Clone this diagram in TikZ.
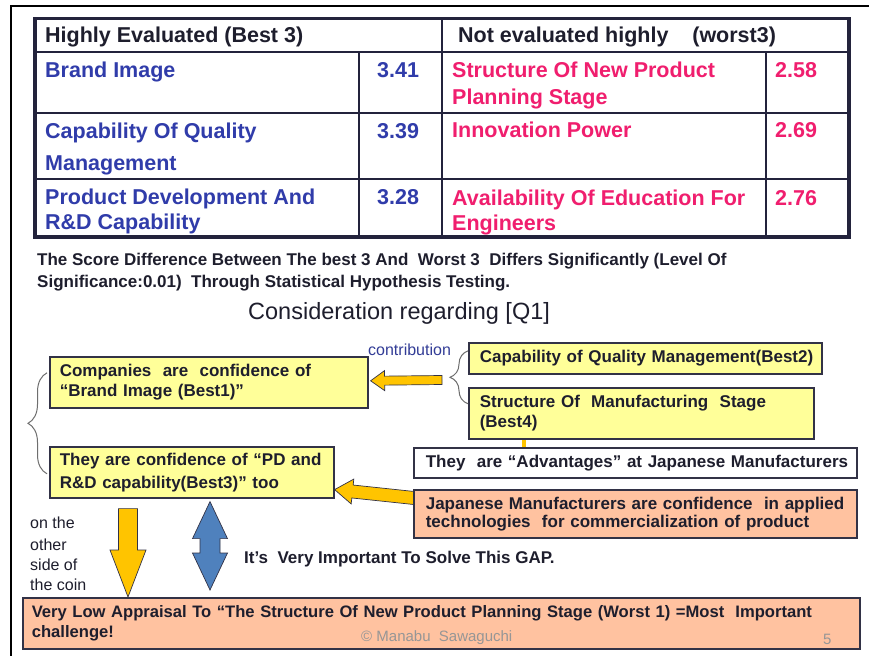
\documentclass[tikz,border=0pt]{standalone}
\usepackage{fontspec}
\setmainfont{Liberation Sans}
\usetikzlibrary{calc,decorations.pathreplacing}
\definecolor{boxline}{RGB}{50,50,70}
\definecolor{boxyellow}{RGB}{255,255,153}
\definecolor{salmon}{RGB}{255,194,160}
\definecolor{arrowyellow}{RGB}{255,196,0}
\definecolor{arrowblue}{RGB}{79,129,189}
\definecolor{tabline}{RGB}{35,35,60}
\definecolor{tabblue}{RGB}{48,60,170}
\definecolor{tabpink}{RGB}{240,30,110}
\definecolor{darktext}{RGB}{30,30,45}
\definecolor{bracegrey}{RGB}{110,110,110}
\definecolor{contribblue}{RGB}{50,60,150}
\definecolor{footgrey}{RGB}{150,150,150}
\newcommand\myTabFont{\fontsize{21.5}{26}\selectfont\bfseries}
\newcommand\myBoxFont{\fontsize{17}{20}\selectfont\bfseries}
\newcommand\myBlockArrow[6]{%
  \coordinate (hb) at ($(#2)!#5!(#1)$);
  \draw[#6] ($(#1)!#3!90:(#2)$) -- ($(hb)!#3!90:(#2)$) -- ($(hb)!#4!90:(#2)$) -- (#2)
    -- ($(hb)!#4!-90:(#2)$) -- ($(hb)!#3!-90:(#2)$) -- ($(#1)!#3!-90:(#2)$) -- cycle;}
\pgfdeclarelayer{bg}
\pgfdeclarelayer{paper}
\pgfsetlayers{paper,bg,main}
\begin{document}
\begin{tikzpicture}[x=1pt,y=-1pt,
  tabtxt/.style={anchor=base west, inner sep=0pt, font=\myTabFont},
  plaintxt/.style={anchor=base west, inner sep=0pt, text=darktext},
  boxbase/.style={draw=boxline, line width=1.6pt, anchor=north west, inner xsep=10pt,
     inner ysep=0pt, align=left, font=\myBoxFont, text=darktext},
  ybox/.style={boxbase, fill=boxyellow},
  sbox/.style={boxbase, fill=salmon},
  wbox/.style={boxbase, fill=white},
  yarrow/.style={fill=arrowyellow, draw=boxline, line width=0.7pt, line join=miter},
  barrow/.style={fill=arrowblue, draw=boxline, line width=0.7pt, line join=miter},
  bracestyle/.style={draw=bracegrey, line width=1pt, decorate},
  tabouter/.style={draw=tabline, line width=3.5pt},
  tabinner/.style={draw=tabline, line width=2pt}]
\useasboundingbox (0,0) rectangle (869,656);
\begin{pgfonlayer}{paper}
\fill[white] (0,0) rectangle (869,656);
\end{pgfonlayer}
% slide frame
\draw[black, line width=1.5pt] (869,6) -- (11,6) -- (11,656);

% ---------- table ----------
\fill[white] (35,18.5) rectangle (849,237);
\draw[tabinner] (35,52) -- (849,52);
\draw[tabinner] (35,113) -- (849,113);
\draw[tabinner] (35,179) -- (849,179);
\draw[tabinner] (442,18.5) -- (442,237);
\draw[tabinner] (359,52) -- (359,237);
\draw[tabinner] (766,52) -- (766,237);
\draw[tabouter] (35,18.5) rectangle (849,237);

\node[tabtxt, text=darktext] (h1) at (45,42) {Highly Evaluated (Best 3)};
\node[tabtxt, text=darktext] (h2) at (458,42) {Not evaluated highly~~~ (worst3)};

\node[tabtxt, text=tabblue] (l1) at (45,77) {Brand Image};
\node[tabtxt, text=tabblue] (n1) at (377,77) {3.41};
\node[tabtxt, text=tabblue] (l2a) at (45,138) {Capability Of Quality};
\node[tabtxt, text=tabblue] (l2b) at (45,170) {Management};
\node[tabtxt, text=tabblue] (n2) at (377,138) {3.39};
\node[tabtxt, text=tabblue] (l3a) at (45,204) {Product Development And};
\node[tabtxt, text=tabblue] (l3b) at (45,229) {R\&D Capability};
\node[tabtxt, text=tabblue] (n3) at (377,204) {3.28};

\node[tabtxt, text=tabpink] (r1a) at (452,77) {Structure Of New Product};
\node[tabtxt, text=tabpink] (r1b) at (452,104) {Planning Stage};
\node[tabtxt, text=tabpink] (m1) at (775,77) {2.58};
\node[tabtxt, text=tabpink] (r2) at (452,137) {Innovation Power};
\node[tabtxt, text=tabpink] (m2) at (775,137) {2.69};
\node[tabtxt, text=tabpink] (r3a) at (452,205) {Availability Of Education For};
\node[tabtxt, text=tabpink] (r3b) at (452,230) {Engineers};
\node[tabtxt, text=tabpink] (m3) at (775,205) {2.76};

% ---------- texts below table ----------
\node[plaintxt, font=\myBoxFont] (s1) at (37,265) {The Score Difference Between The best 3 And~ Worst 3~ Differs Significantly (Level Of};
\node[plaintxt, font=\myBoxFont] (s2) at (37,287) {Significance:0.01)~ Through Statistical Hypothesis Testing.};
\node[plaintxt, font=\fontsize{23.5}{28}\selectfont] (cons) at (248,319) {Consideration regarding [Q1]};

% ---------- boxes ----------
\node[ybox, minimum width=318pt, minimum height=51pt, text width=298pt] (A) at (49,356)
  {\mbox{Companies~ are~ confidence of}\\\mbox{“Brand Image (Best1)”}};
\node[ybox, minimum width=284pt, minimum height=51pt, text width=264pt] (B) at (49,446)
  {\mbox{They are confidence of “PD and}\\[3pt]\mbox{R\&D capability(Best3)” too}};
\node[ybox, minimum width=353pt, minimum height=31pt, text width=331pt, inner xsep=11pt] (C) at (468,342)
  {\mbox{Capability of Quality Management(Best2)}};
\node[ybox, minimum width=345pt, minimum height=51pt, text width=323pt, inner xsep=11pt] (D) at (468,387)
  {\mbox{Structure Of~ Manufacturing~ Stage}\\\mbox{(Best4)}};
\node[wbox, minimum width=443pt, minimum height=30pt, text width=419pt, inner xsep=12pt] (E) at (413,447)
  {\mbox{They~ are “Advantages” at Japanese Manufacturers}};
\node[sbox, minimum width=443pt, minimum height=48pt, text width=419pt, inner xsep=12pt] (F) at (413,489)
  {\mbox{Japanese Manufacturers are confidence~ in applied}\\[-2pt]\mbox{technologies~ for commercialization of product}};
\node[sbox, minimum width=837pt, minimum height=51pt, text width=819pt, inner xsep=9pt,
      font=\fontsize{16.6}{20}\selectfont\bfseries] (G) at (22,597)
  {\mbox{Very Low Appraisal To “The Structure Of New Product Planning Stage (Worst 1) =Most~ Important}\\\mbox{challenge!}};

% other labels
\node[plaintxt, text=contribblue, font=\fontsize{16}{18}\selectfont] (contrib) at (368,355) {contribution};
\node[plaintxt, font=\fontsize{16}{19}\selectfont] (o1) at (30,528) {on the};
\node[plaintxt, font=\fontsize{16}{19}\selectfont] (o2) at (30,550) {other};
\node[plaintxt, font=\fontsize{16}{19}\selectfont] (o3) at (30,570) {side of};
\node[plaintxt, font=\fontsize{16}{19}\selectfont] (o4) at (30,590) {the coin};
\node[plaintxt, font=\myBoxFont] (gap) at (244,563) {It’s~ Very Important To Solve This GAP.};
\node[plaintxt, text=footgrey, font=\fontsize{15}{18}\selectfont] (copy) at (361,641) {© Manabu~ Sawaguchi};
\node[plaintxt, text=footgrey, font=\fontsize{15}{18}\selectfont] (page) at (823,644) {5};

% braces
\draw[bracestyle, decoration={brace, amplitude=19pt}]
  ($(A.west)+(-2,-9.5)$) ++(0,101) -- ($(A.west)+(-2,-9.5)$);
\draw[bracestyle, decoration={brace, amplitude=18pt}]
  ($(D.west)+(0,-9.5)$) -- ($(C.west)+(0,-7.5)$);

% ---------- arrows (behind boxes) ----------
\begin{pgfonlayer}{bg}
\coordinate (contribTail) at (442,380);
\coordinate (Atip) at ($(A.east)+(2,-1.5)$);
\myBlockArrow{contribTail}{Atip}{4.5pt}{10pt}{14pt}{yarrow}
\coordinate (Ftail) at ($(F.north west)+(1,9)$);
\coordinate (Btip) at ($(B.south east)+(0,-9)$);
\myBlockArrow{Ftail}{Btip}{6.5pt}{12.5pt}{18pt}{yarrow}
\coordinate (downTail) at ($(B.south west)+(79,10)$);
\coordinate (downTip) at ($(G.north west)+(106,0)$);
\myBlockArrow{downTail}{downTip}{9.5pt}{18pt}{47pt}{yarrow}
% blue double arrow
\coordinate (T) at ($(B.south west)+(161,3)$);
\coordinate (U) at ($(G.north west)+(188,-7)$);
\coordinate (hb1) at ($(T)!37pt!(U)$);
\coordinate (hb2) at ($(U)!37pt!(T)$);
\draw[barrow] (T) -- ($(hb1)!17.5pt!90:(U)$) -- ($(hb1)!10pt!90:(U)$) -- ($(hb2)!10pt!-90:(T)$)
  -- ($(hb2)!17.5pt!-90:(T)$) -- (U) -- ($(hb2)!17.5pt!90:(T)$) -- ($(hb2)!10pt!90:(T)$)
  -- ($(hb1)!10pt!-90:(U)$) -- ($(hb1)!17.5pt!-90:(U)$) -- cycle;
% small connector D -> E
\draw[arrowyellow, line width=4pt] ($(D.south west)+(56,0)$) -- ($(E.north west)+(111,0)$);
\end{pgfonlayer}
\end{tikzpicture}
\end{document}
